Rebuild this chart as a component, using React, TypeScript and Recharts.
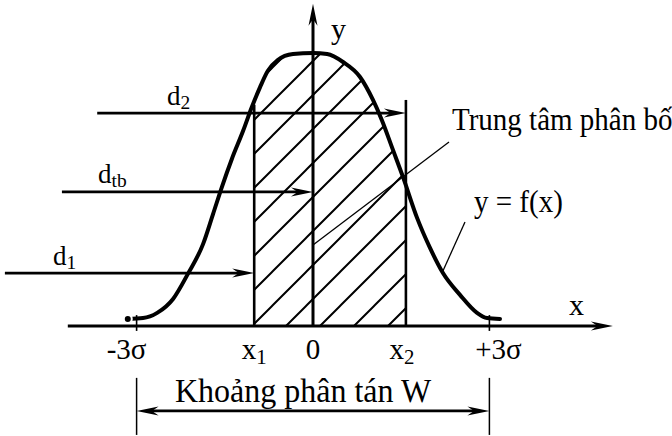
import React from "react";
import {
  ComposedChart,
  XAxis,
  YAxis,
  Line,
  Area,
  ReferenceLine,
  ReferenceDot,
} from "recharts";

// curve y = f(x), x in sigma units, y relative to the peak
const curveX = [-3.15, -2.89, -2.65, -2.38, -2.13, -1.87, -1.7, -1.55, -1.38, -1.19, -1.04, -0.9, -0.77, -0.6, -0.34, 0, 0.24, 0.51, 0.8, 1.02, 1.17, 1.36, 1.53, 1.77, 1.99, 2.21, 2.5, 2.79, 2.96, 3.18];
const curveY = [0.026, 0.029, 0.048, 0.099, 0.19, 0.3, 0.41, 0.509, 0.612, 0.714, 0.802, 0.875, 0.934, 0.974, 0.996, 1.0, 0.996, 0.967, 0.912, 0.828, 0.755, 0.645, 0.546, 0.396, 0.286, 0.194, 0.114, 0.048, 0.029, 0.026];

// hatched part between x1 and x2
const hatchX = [-1.0, -0.9, -0.77, -0.6, -0.34, 0, 0.24, 0.51, 0.8, 1.02, 1.17, 1.36, 1.53, 1.58];
const hatchY = [0.81, 0.875, 0.934, 0.974, 0.996, 1.0, 0.996, 0.967, 0.912, 0.828, 0.755, 0.645, 0.546, 0.52];

const tickX = [-3, -1, 0, 1.58, 3];
const tickMain = ["-3σ", "x", "0", "x", "+3σ"];
const tickSub = ["", "1", "", "2", ""];

const X1 = -1;
const X2 = 1.58;

const curve = curveX.map((x, i) => ({ x, y: curveY[i] }));
const hatch = hatchX.map((x, i) => ({ x, y: hatchY[i] }));

const PX = 58.8; // px per sigma
const PY = 273; // px per unit of y
const FONT = "Liberation Serif";

function head(tx: number, ty: number, fx: number, fy: number, len = 22, half = 4.5) {
  const a = Math.atan2(ty - fy, tx - fx);
  const c = Math.cos(a);
  const s = Math.sin(a);
  const pts = [
    [0, 0],
    [-len, -half],
    [-len * 0.7, 0],
    [-len, half],
  ]
    .map(([u, v]) => `${tx + u * c - v * s},${ty + u * s + v * c}`)
    .join(" ");
  return <polygon points={pts} fill="#000" />;
}

function arrow(w: number, atEnd: boolean, atStart = false) {
  return (p: any) => {
    const { x1, y1, x2, y2 } = p;
    const d = Math.hypot(x2 - x1, y2 - y1) || 1;
    const ux = (x2 - x1) / d;
    const uy = (y2 - y1) / d;
    const sx = atStart ? x1 + ux * 12 : x1;
    const sy = atStart ? y1 + uy * 12 : y1;
    const ex = atEnd ? x2 - ux * 12 : x2;
    const ey = atEnd ? y2 - uy * 12 : y2;
    return (
      <g>
        <line x1={sx} y1={sy} x2={ex} y2={ey} stroke="#000" strokeWidth={w} />
        {atEnd && head(x2, y2, x1, y1)}
        {atStart && head(x1, y1, x2, y2)}
      </g>
    );
  };
}

function plain(w: number) {
  return (p: any) => (
    <line x1={p.x1} y1={p.y1} x2={p.x2} y2={p.y2} stroke="#000" strokeWidth={w} />
  );
}

function text(main: string, sub: string, size: number, anchor = "start", dx = 0, stretch = 1) {
  return (p: any) => (
    <text
      transform={`translate(${p.cx + dx},${p.cy}) scale(1,${stretch})`}
      x={0}
      y={0}
      fontFamily={FONT}
      fontSize={size}
      textAnchor={anchor}
      fill="#000"
    >
      {main}
      {sub ? (
        <tspan fontSize={size * 0.72} dy={size * 0.16}>
          {sub}
        </tspan>
      ) : null}
    </text>
  );
}

const tickDx = [-10, 0, 0, -4, 9];

export default function App() {
  return (
    <div style={{ position: "absolute", left: 0, top: 0, background: "#fff" }}>
      <ComposedChart width={672} height={436} margin={{ top: 0, right: 0, bottom: 0, left: 0 }}>
        <defs>
          <pattern id="hatch" patternUnits="userSpaceOnUse" width={34} height={34}>
            <path d="M-5,5 L5,-5 M0,34 L34,0 M29,39 L39,29" stroke="#000" strokeWidth={2} />
          </pattern>
        </defs>
        <XAxis
          dataKey="x"
          type="number"
          hide
          allowDataOverflow
          domain={[-313 / PX, 359 / PX]}
        />
        <YAxis type="number" hide allowDataOverflow domain={[-110 / PY, 326 / PY]} />

        <Area
          data={hatch}
          dataKey="y"
          type="monotone"
          baseValue={0}
          fill="url(#hatch)"
          fillOpacity={1}
          stroke="none"
          isAnimationActive={false}
        />

        {/* axes */}
        <ReferenceLine segment={[{ x: -4.17, y: 0 }, { x: 5.1, y: 0 }]} shape={arrow(3, true)} />
        <ReferenceLine segment={[{ x: 0, y: 0 }, { x: 0, y: 1.18 }]} shape={arrow(3, true)} />
        {[-3, 3].map((t) => (
          <ReferenceLine key={t} segment={[{ x: t, y: 0.04 }, { x: t, y: -0.018 }]} shape={plain(1.6)} />
        ))}

        {/* x1, x2 limits */}
        <ReferenceLine segment={[{ x: X1, y: 0 }, { x: X1, y: 0.81 }]} shape={plain(2.6)} />
        <ReferenceLine segment={[{ x: X2, y: 0 }, { x: X2, y: 0.828 }]} shape={plain(2.6)} />

        {/* d arrows */}
        <ReferenceLine segment={[{ x: -3.67, y: 0.78 }, { x: X2, y: 0.78 }]} shape={arrow(2.7, true)} />
        <ReferenceLine segment={[{ x: -4.27, y: 0.491 }, { x: 0, y: 0.491 }]} shape={arrow(2.7, true)} />
        <ReferenceLine segment={[{ x: -5.24, y: 0.194 }, { x: X1, y: 0.194 }]} shape={arrow(2.7, true)} />

        {/* leader lines */}
        <ReferenceLine segment={[{ x: 2.313, y: 0.674 }, { x: 0, y: 0.297 }]} shape={plain(1.3)} />
        <ReferenceLine segment={[{ x: 2.585, y: 0.381 }, { x: 2.194, y: 0.194 }]} shape={plain(1.3)} />

        {/* spread W */}
        <ReferenceLine segment={[{ x: -3, y: -0.19 }, { x: -3, y: -0.399 }]} shape={plain(1.5)} />
        <ReferenceLine segment={[{ x: 3, y: -0.19 }, { x: 3, y: -0.399 }]} shape={plain(1.5)} />
        <ReferenceLine segment={[{ x: -3, y: -0.311 }, { x: 3, y: -0.311 }]} shape={arrow(2.7, true, true)} />

        <Line
          data={curve}
          dataKey="y"
          type="monotone"
          stroke="#000"
          strokeWidth={4}
          strokeLinejoin="round"
          strokeLinecap="round"
          dot={false}
          isAnimationActive={false}
        />

        {/* labels */}
        {tickX.map((t, i) => (
          <ReferenceDot
            key={"t" + i}
            x={t}
            y={-0.121}
            r={1}
            shape={text(tickMain[i], tickSub[i], 29, "middle", tickDx[i])}
          />
        ))}
        <ReferenceDot x={-2.483} y={0.81} r={1} shape={text("d", "2", 27)} />
        <ReferenceDot x={-3.656} y={0.524} r={1} shape={text("d", "tb", 27)} />
        <ReferenceDot x={-4.422} y={0.223} r={1} shape={text("d", "1", 27)} />
        <ReferenceDot x={2.364} y={0.718} r={1} shape={text("Trung tâm phân bố", "", 29, "start", 0, 1.08)} />
        <ReferenceDot x={2.738} y={0.418} r={1} shape={text("y = f(x)", "", 29, "start", 0, 1.08)} />
        <ReferenceDot x={-0.17} y={-0.278} r={1} shape={text("Khoảng phân tán W", "", 32, "middle", 0, 1.08)} />
        <ReferenceDot x={4.354} y={0.04} r={1} shape={text("x", "", 30)} />
        <ReferenceDot x={0.306} y={1.051} r={1} shape={text("y", "", 30)} />
      </ComposedChart>
    </div>
  );
}
